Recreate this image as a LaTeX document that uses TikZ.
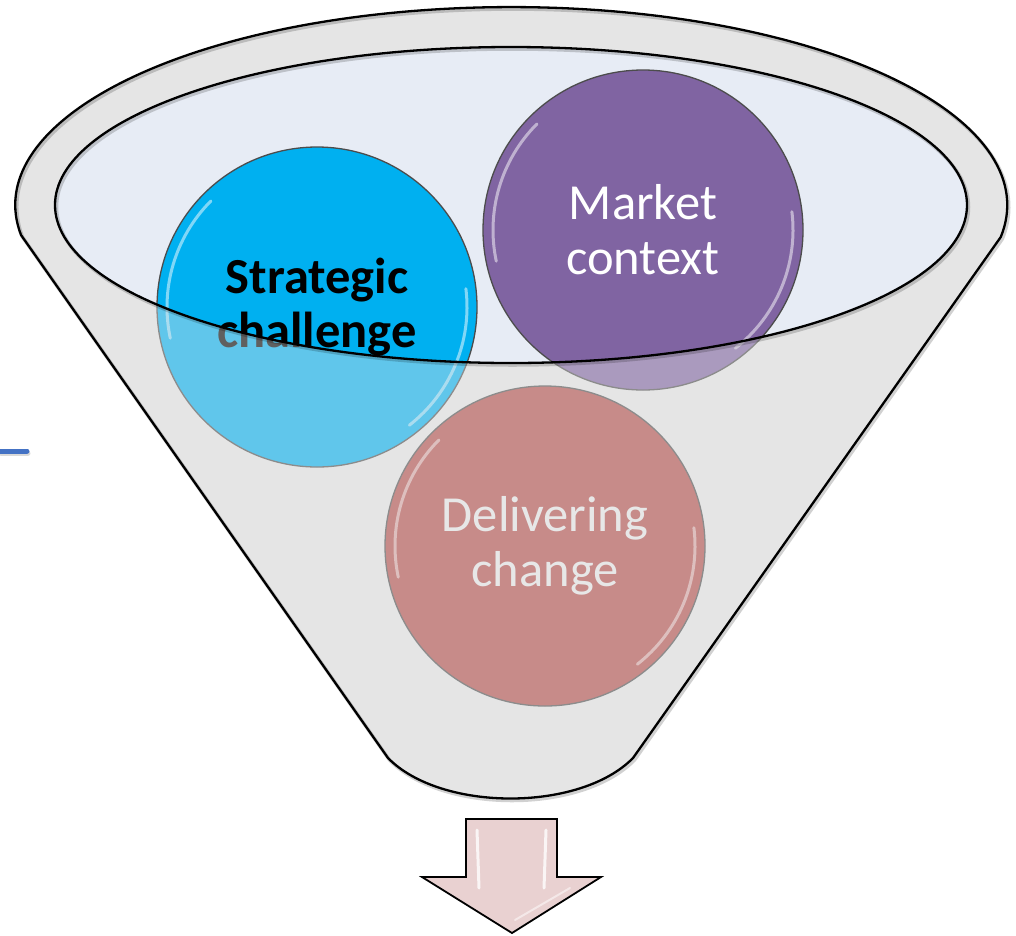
\documentclass[tikz,border=0pt]{standalone}
\usepackage{fontspec}
\setmainfont{Carlito}
\definecolor{funnelgray}{RGB}{229,229,229}
\definecolor{mouth}{RGB}{231,236,245}
\definecolor{cyanball}{RGB}{0,176,240}
\definecolor{purpleball}{RGB}{128,100,162}
\definecolor{roseball}{RGB}{178,74,71}
\definecolor{palewhite}{RGB}{234,234,234}
\definecolor{arrowpink}{RGB}{233,209,209}
\definecolor{tickblue}{RGB}{68,114,196}
\begin{document}
\begin{tikzpicture}[x=1pt,y=1pt,
  bubble/.style={circle, minimum size=320pt, inner sep=0pt, draw=black!70,
    line width=1.3pt, align=center, font=\fontsize{50.5}{55}\selectfont},
  rim/.style={draw=black, line width=2.3pt, line join=round},
  rimshadow/.style={draw=black, line width=3.5pt, opacity=0.18},
  gloss/.style={draw=white, line width=3pt, opacity=0.5, line cap=round}]

\useasboundingbox (0,0) rectangle (1016,-935);

% funnel body
\fill[funnelgray] (388,-758) -- (21,-235)
  arc[start angle=188.7, end angle=-9.3, x radius=496, y radius=198]
  -- (633,-758) .. controls (580,-812) and (441,-812) .. (388,-758) -- cycle;
% funnel mouth
\fill[mouth] (511,-205) ellipse [x radius=456, y radius=158];

% the three balls
\node[bubble, fill=cyanball, text=black, font=\fontsize{50.5}{54}\selectfont\bfseries]
  (strat) at (317,-307) {Strategic\\challenge};
\node[bubble, fill=purpleball, text=white] (market) at (643,-230) {Market\\context};
\node[bubble, fill=roseball, text=palewhite] (deliver) at (545,-546) {Delivering\\change};

% glossy rims
\foreach \b in {strat, market, deliver} {
  \draw[gloss] (\b.center) ++(192:150) arc[start angle=192, end angle=135, radius=150];
  \draw[gloss] (\b.center) ++(-52:150) arc[start angle=-52, end angle=7, radius=150];
}

% translucent funnel wall over everything below the mouth
\fill[funnelgray, opacity=0.42, even odd rule] (388,-758) -- (21,-235)
  arc[start angle=188.7, end angle=-9.3, x radius=496, y radius=198]
  -- (633,-758) .. controls (580,-812) and (441,-812) .. (388,-758) -- cycle
  (511,-205) ellipse [x radius=456, y radius=158];

% outlines with a soft shadow
\begin{scope}[shift={(1.5,-2)}]
  \draw[rimshadow] (388,-758) -- (21,-235)
    arc[start angle=188.7, end angle=-9.3, x radius=496, y radius=198]
    -- (633,-758) .. controls (580,-812) and (441,-812) .. (388,-758) -- cycle;
  \draw[rimshadow] (511,-205) ellipse [x radius=456, y radius=158];
\end{scope}
\draw[rim] (388,-758) -- (21,-235)
  arc[start angle=188.7, end angle=-9.3, x radius=496, y radius=198]
  -- (633,-758) .. controls (580,-812) and (441,-812) .. (388,-758) -- cycle;
\draw[rim] (511,-205) ellipse [x radius=456, y radius=158];

% output arrow
\draw[fill=arrowpink, draw=black, line width=1.8pt, line join=miter]
  (466,-819) -- (557,-819) -- (557,-877) -- (601,-877) -- (512,-933)
  -- (422,-877) -- (466,-877) -- cycle;
\draw[gloss, line width=3pt, opacity=0.8] (477,-830) -- (479,-888);
\draw[gloss, line width=3pt, opacity=0.8] (546,-830) -- (544,-888);
\draw[gloss, line width=2pt, opacity=0.5] (515,-920) -- (570,-888);

% stub on the left
\coordinate (tickA) at (0,-451);
\coordinate (tickB) at (27,-451);
\draw[black, opacity=0.15, line width=5pt, line cap=round] ([shift={(1,-2)}]tickA) -- ([shift={(1,-2)}]tickB);
\draw[tickblue, line width=5pt, line cap=round] (tickA) -- (tickB);
\end{tikzpicture}
\end{document}
